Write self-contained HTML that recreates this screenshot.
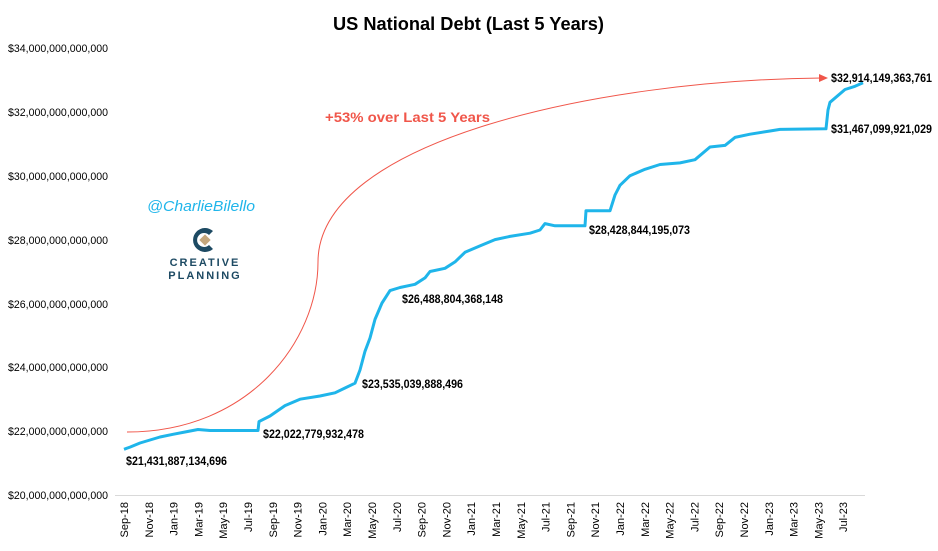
<!DOCTYPE html>
<html><head><meta charset="utf-8"><style>
body{margin:0;background:#fff;}
svg{display:block;font-family:"Liberation Sans",sans-serif;}
</style></head><body>
<svg width="938" height="551" viewBox="0 0 938 551">
<text x="333" y="30" font-size="18" font-weight="bold" textLength="271" lengthAdjust="spacingAndGlyphs">US National Debt (Last 5 Years)</text>
<g font-size="11" fill="#000" lengthAdjust="spacingAndGlyphs">
<text x="8" y="52" textLength="100" lengthAdjust="spacingAndGlyphs">$34,000,000,000,000</text>
<text x="8" y="116" textLength="100" lengthAdjust="spacingAndGlyphs">$32,000,000,000,000</text>
<text x="8" y="180" textLength="100" lengthAdjust="spacingAndGlyphs">$30,000,000,000,000</text>
<text x="8" y="244" textLength="100" lengthAdjust="spacingAndGlyphs">$28,000,000,000,000</text>
<text x="8" y="308" textLength="100" lengthAdjust="spacingAndGlyphs">$26,000,000,000,000</text>
<text x="8" y="371" textLength="100" lengthAdjust="spacingAndGlyphs">$24,000,000,000,000</text>
<text x="8" y="435" textLength="100" lengthAdjust="spacingAndGlyphs">$22,000,000,000,000</text>
<text x="8" y="499" textLength="100" lengthAdjust="spacingAndGlyphs">$20,000,000,000,000</text>
</g>
<line x1="115" y1="495.5" x2="865" y2="495.5" stroke="#d9d9d9" stroke-width="1"/>
<g font-size="11" text-anchor="end">
<text transform="translate(128,502) rotate(-90)">Sep-18</text>
<text transform="translate(152.8,502) rotate(-90)">Nov-18</text>
<text transform="translate(177.6,502) rotate(-90)">Jan-19</text>
<text transform="translate(202.4,502) rotate(-90)">Mar-19</text>
<text transform="translate(227.2,502) rotate(-90)">May-19</text>
<text transform="translate(252,502) rotate(-90)">Jul-19</text>
<text transform="translate(276.8,502) rotate(-90)">Sep-19</text>
<text transform="translate(301.6,502) rotate(-90)">Nov-19</text>
<text transform="translate(326.4,502) rotate(-90)">Jan-20</text>
<text transform="translate(351.2,502) rotate(-90)">Mar-20</text>
<text transform="translate(376,502) rotate(-90)">May-20</text>
<text transform="translate(400.8,502) rotate(-90)">Jul-20</text>
<text transform="translate(425.6,502) rotate(-90)">Sep-20</text>
<text transform="translate(450.4,502) rotate(-90)">Nov-20</text>
<text transform="translate(475.2,502) rotate(-90)">Jan-21</text>
<text transform="translate(500,502) rotate(-90)">Mar-21</text>
<text transform="translate(524.8,502) rotate(-90)">May-21</text>
<text transform="translate(549.6,502) rotate(-90)">Jul-21</text>
<text transform="translate(574.4,502) rotate(-90)">Sep-21</text>
<text transform="translate(599.2,502) rotate(-90)">Nov-21</text>
<text transform="translate(624,502) rotate(-90)">Jan-22</text>
<text transform="translate(648.8,502) rotate(-90)">Mar-22</text>
<text transform="translate(673.6,502) rotate(-90)">May-22</text>
<text transform="translate(698.4,502) rotate(-90)">Jul-22</text>
<text transform="translate(723.2,502) rotate(-90)">Sep-22</text>
<text transform="translate(748,502) rotate(-90)">Nov-22</text>
<text transform="translate(772.8,502) rotate(-90)">Jan-23</text>
<text transform="translate(797.6,502) rotate(-90)">Mar-23</text>
<text transform="translate(822.4,502) rotate(-90)">May-23</text>
<text transform="translate(847.2,502) rotate(-90)">Jul-23</text>
</g>
<path d="M127,432 C250,432 318,340 318,262 C318,140 600,80 822,78" fill="none" stroke="#f0564a" stroke-width="1"/>
<polygon points="828,78 819,74 819,82" fill="#f0564a"/>
<text x="325" y="122" font-size="14" font-weight="bold" fill="#f0564a" textLength="165" lengthAdjust="spacingAndGlyphs">+53% over Last 5 Years</text>
<polyline fill="none" stroke="#1fb5ea" stroke-width="3" stroke-linejoin="round" points="
124,449.3 130,447.1 140,443 150,440 160,437 173,434.3 185,432 198,429.5 210,430.5 258,430.5 259,421.6 270,416 285,405.6 300,399.2 320,396 335,392.8 345,388 355,383.2 360,370 365,351.3 370,338 375,319.4 382,303 390,290.6 400,287.5 415,284.3 425,277.9 430,271.5 445,268.3 455,261.9 465,252.3 480,245.9 495,239.6 510,236.4 530,233.2 540,230 545,223.6 555,225.8 585,225.8 586,210.8 610,210.8 615,195 620,185.3 630,175.7 645,169.3 660,164.5 680,162.9 695,159.7 710,147 725,145.4 735,137.4 750,134.2 770,131 780,129.4 826,128.8 828,110 830,102.3 845,89.5 855,86.3 863,82.8"/>
<g font-size="12" font-weight="bold">
<text x="126" y="465" textLength="101" lengthAdjust="spacingAndGlyphs">$21,431,887,134,696</text>
<text x="263" y="438" textLength="101" lengthAdjust="spacingAndGlyphs">$22,022,779,932,478</text>
<text x="362" y="388" textLength="101" lengthAdjust="spacingAndGlyphs">$23,535,039,888,496</text>
<text x="402" y="303" textLength="101" lengthAdjust="spacingAndGlyphs">$26,488,804,368,148</text>
<text x="589" y="234" textLength="101" lengthAdjust="spacingAndGlyphs">$28,428,844,195,073</text>
<text x="831" y="133" textLength="101" lengthAdjust="spacingAndGlyphs">$31,467,099,921,029</text>
<text x="831" y="82" textLength="101" lengthAdjust="spacingAndGlyphs">$32,914,149,363,761</text>
</g>
<text x="147" y="211" font-size="15" font-style="italic" fill="#1fb5ea" textLength="108" lengthAdjust="spacingAndGlyphs">@CharlieBilello</text>
<g transform="translate(205,240)">
<path d="M8,-9 A12,12 0 1 0 8,9 L4,5 A7,7 0 1 1 4,-5 Z" fill="#1d4a63"/>
<rect x="-4" y="-4" width="8" height="8" fill="#c4a77d" transform="rotate(45)"/>
</g>
<text x="205" y="266" font-size="11" font-weight="bold" fill="#1d4a63" text-anchor="middle" letter-spacing="2">CREATIVE</text>
<text x="205" y="279" font-size="11" font-weight="bold" fill="#1d4a63" text-anchor="middle" letter-spacing="2">PLANNING</text>
</svg>
</body></html>
